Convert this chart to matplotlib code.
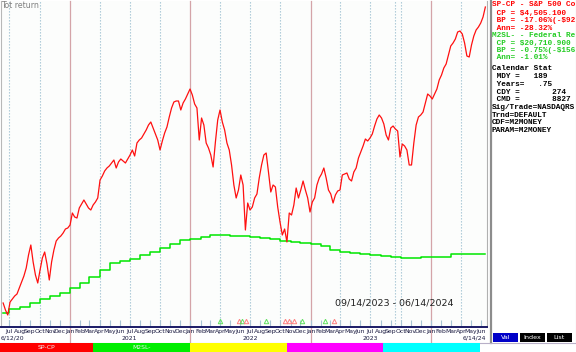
import matplotlib
matplotlib.use('Agg')
import matplotlib.pyplot as plt
import pandas as pd
from matplotlib.patches import Rectangle

W, H = 576, 352

# ---------------- data ----------------
sp_start = '2020-06-12'          # weekly closes, SP-CP (Tot return index units)
sp_values = [
    27, 20, 15, 28, 31, 34, 36, 42, 48, 54, 62, 75, 85, 68, 55, 47, 60, 72, 78, 66,
    50, 68, 80, 89, 92, 94, 97, 101, 102, 105, 117, 113, 112, 122, 126, 130, 126, 122, 120, 125,
    128, 132, 150, 154, 159, 162, 164, 167, 170, 162, 168, 171, 169, 167, 171, 175, 180, 174, 187, 190,
    192, 196, 200, 205, 208, 202, 196, 190, 180, 189, 197, 203, 213, 222, 228, 229, 229, 220, 227, 231,
    236, 241, 235, 226, 222, 190, 212, 205, 187, 182, 175, 163, 188, 210, 220, 208, 200, 187, 180, 165,
    145, 132, 140, 155, 145, 100, 127, 120, 123, 132, 136, 152, 165, 175, 177, 158, 138, 145, 143, 123,
    108, 95, 101, 88, 117, 115, 125, 142, 132, 140, 149, 140, 132, 118, 128, 132, 145, 152, 156, 162,
    152, 140, 136, 127, 135, 139, 140, 155, 156, 157, 151, 149, 158, 162, 172, 178, 184, 191, 189, 192,
    196, 204, 211, 215, 212, 206, 195, 190, 202, 204, 201, 199, 173, 186, 184, 180, 165, 165, 187, 205,
    213, 215, 218, 227, 236, 234, 231, 236, 241, 250, 255, 262, 266, 275, 284, 287, 291, 298, 299, 296,
    287, 274, 273, 285, 294, 300, 303, 307, 313, 323,
]
sp_end = '2024-06-14'

# M2SL monthly (first value from 6/12/20, then each month start)
m2_values = [
    17, 21, 23, 27, 31, 34, 37,
    42, 47, 53, 60, 67, 69, 71, 75, 78, 82, 86, 90,
    91, 93, 95, 95, 94, 94, 93, 92, 91, 89, 88, 87,
    86, 84, 80, 78, 77, 76, 75, 74, 73, 72, 72, 73,
    73, 73, 76, 76, 76, 76,
]

# NASDAQRS signal marks (date, kind)
signal_dates = ['2022-04-02', '2022-05-30', '2022-06-07', '2022-06-19', '2022-08-19',
                '2022-10-15', '2022-10-27', '2022-11-12', '2022-12-06', '2023-02-12', '2023-03-14']
signal_kind = ['buy', 'sell', 'buy', 'sell', 'buy', 'sell', 'sell', 'sell', 'buy', 'buy', 'sell']

month_names = ['Jan', 'Feb', 'Mar', 'Apr', 'May', 'Jun',
               'Jul', 'Aug', 'Sep', 'Oct', 'Nov', 'Dec']
year_labels = ['6/12/20', '2021', '2022', '2023', '6/14/24']
range_label = '09/14/2023 - 06/14/2024'
range_start = '2023-09-14'

panel_lines = [
    ('SP-CP - S&P 500 Co', '#ff0000'),
    (' CP = $4,505.100', '#ff0000'),
    (' BP = -17.06%(-$92', '#ff0000'),
    (' Ann= -28.32%', '#ff0000'),
    ('M2SL- - Federal Re', '#22cc22'),
    (' CP = $20,710.900', '#22cc22'),
    (' BP = -0.75%(-$156', '#22cc22'),
    (' Ann= -1.01%', '#22cc22'),
    ('Calendar Stat', '#000000'),
    (' MDY =   189', '#000000'),
    (' Years=   .75', '#000000'),
    (' CDY =       274', '#000000'),
    (' CMD =       8827', '#000000'),
    ('Sig/Trade=NASDAQRS', '#000000'),
    ('Trnd=DEFAULT', '#000000'),
    ('CDF=M2MONEY', '#000000'),
    ('PARAM=M2MONEY', '#000000'),
]
panel_rows = [5, 13, 20.5, 28, 35.5, 43, 50, 57.5, 68.5, 77, 84.5, 92, 99.5, 107.5, 115.5, 123, 131]

strip_names = ['SP-CP', 'M2SL-', '', '', '']
strip_colors = ['#ff0000', '#00ee00', '#ffff00', '#ff00ff', '#00ffff']
strip_edges = [0, 93, 190, 287, 383, 480]
buttons = [('Val', '#0000c8'), ('Index', '#000000'), ('List', '#000000')]

# ---------------- figure ----------------
fig = plt.figure(figsize=(W / 100, H / 100), dpi=100)
fig.patch.set_facecolor('white')

def px_axes(x0, y0, x1, y1):
    return fig.add_axes([x0 / W, 1 - y1 / H, (x1 - x0) / W, (y1 - y0) / H])

ax = px_axes(1, 1, 487, 327)
ax.set_facecolor('#fcfdfc')

sp_dates = pd.date_range(sp_start, periods=len(sp_values), freq='7D')
m2_dates = [pd.Timestamp(sp_start)] + list(pd.date_range('2020-07-01', periods=len(m2_values) - 1, freq='MS')) \
    + [pd.Timestamp(sp_end)]
m2_plot = m2_values + [m2_values[-1]]

x0 = pd.Timestamp('2020-06-05 12:00')
x1 = pd.Timestamp('2024-06-19')
ax.set_xlim(x0, x1)
ax.set_ylim(3, 329)

# grid: quarters dotted, years solid
months = pd.date_range('2020-07-01', '2024-06-01', freq='MS')
ylow = -(342 - 327) / 326
for m in months:
    if m.month == 1:
        ax.axvline(m, color='#d4a4a8', lw=0.9, ymin=ylow, ymax=1, clip_on=False, zorder=1)
    elif m.month in (4, 7, 10):
        ax.axvline(m, color='#a4c4d4', lw=0.8, ls=(0, (1.2, 1.5)), zorder=1)
ax.axvline(pd.Timestamp(range_start), color='#a4c4d4', lw=0.8, ls=(0, (1.2, 1.5)), zorder=1)

ax.plot(m2_dates, m2_plot, drawstyle='steps-post', color='#00e600', lw=1.1, zorder=3)
ax.plot(sp_dates, sp_values, color='#ff1010', lw=0.9, zorder=4)

xt = ax.get_xaxis_transform()
for d, k in zip(signal_dates, signal_kind):
    ax.plot([pd.Timestamp(d)], [6.5 / 326], marker='^', ms=3.2, mfc='none', mew=0.7,
            mec='#ff8080' if k == 'sell' else '#60e060', transform=xt, zorder=2, clip_on=False)

ax.set_xticks(months)
ax.set_xticklabels([month_names[m.month - 1] for m in months],
                   family=['Liberation Sans Narrow', 'DejaVu Sans'])
ax.tick_params(axis='x', direction='in', length=5, width=0.8, color='#a8c4d4',
               labelsize=4.4, labelcolor='#1a1a40', pad=1.2)
ax.set_yticks([])
ax.spines['top'].set_visible(False)
ax.spines['left'].set_color('#b8b8b8')
ax.spines['left'].set_linewidth(0.8)
ax.spines['right'].set_color('#b0b0b0')
ax.spines['right'].set_linewidth(0.8)
ax.spines['bottom'].set_color('#1a1a66')
ax.spines['bottom'].set_linewidth(1.4)

year_pos = [x0, pd.Timestamp('2021-07-01'), pd.Timestamp('2022-07-01'),
            pd.Timestamp('2023-07-01'), pd.Timestamp('2024-06-16')]
year_ha = ['left', 'center', 'center', 'center', 'right']
for d, lab, ha in zip(year_pos, year_labels, year_ha):
    ax.text(d, -11 / 326, lab, transform=xt, ha=ha, va='center', fontsize=4.4,
            color='#1a1a40', family=['Liberation Sans Narrow', 'DejaVu Sans'], clip_on=False)

# ---------------- overlay (pixel space) ----------------
ov = fig.add_axes([0, 0, 1, 1])
ov.set_xlim(0, W)
ov.set_ylim(H, 0)
ov.axis('off')
ov.patch.set_alpha(0)

ov.text(1, 5, 'Tot return', fontsize=5.7, color='#808080', ha='left', va='center',
        family=['Liberation Sans Narrow', 'DejaVu Sans'])
ov.text(394, 302.5, range_label, fontsize=6.8, color='#222222', ha='center', va='center',
        family=['Liberation Sans Narrow', 'DejaVu Sans'])

# right panel
ov.add_patch(Rectangle((489, 0), 87, 343, fc='white', ec='none', zorder=1))
ov.plot([490.5, 490.5], [0, 343], color='#8c8c8c', lw=1.6, zorder=2)
ov.plot([575.5, 575.5], [0, 343], color='#b8b8b8', lw=0.8, zorder=2)
ov.plot([0, 576], [342.5, 342.5], color='#b8b0c8', lw=0.8, zorder=2)

pan = px_axes(492, 0, 575, 343)
pan.set_xlim(492, 575)
pan.set_ylim(343, 0)
pan.axis('off')
pan.patch.set_alpha(0)
for (s, c), y in zip(panel_lines, panel_rows):
    pan.text(492, y, s, color=c, fontsize=5.6, family=['Liberation Mono', 'DejaVu Sans Mono'],
             ha='left', va='center', clip_on=True, fontweight='bold')

# buttons
bx = 493
for lab, col in buttons:
    ov.add_patch(Rectangle((bx, 333), 25, 9, fc=col, ec='none', zorder=3))
    ov.text(bx + 12.5, 337.6, lab, color='white', fontsize=4.6, ha='center', va='center', zorder=4,
            family=['Liberation Sans Narrow', 'DejaVu Sans'])
    bx += 27

# colour strip
for i, (name, col) in enumerate(zip(strip_names, strip_colors)):
    a, b = strip_edges[i], strip_edges[i + 1]
    ov.add_patch(Rectangle((a, 343), b - a, 9, fc=col, ec='none', zorder=3))
    if name:
        ov.text((a + b) / 2, 347.8, name, color='#f0f0f0', fontsize=4.4, ha='center', va='center',
                zorder=4, family=['Liberation Sans Narrow', 'DejaVu Sans'])

fig.savefig('out.png', dpi=100)
